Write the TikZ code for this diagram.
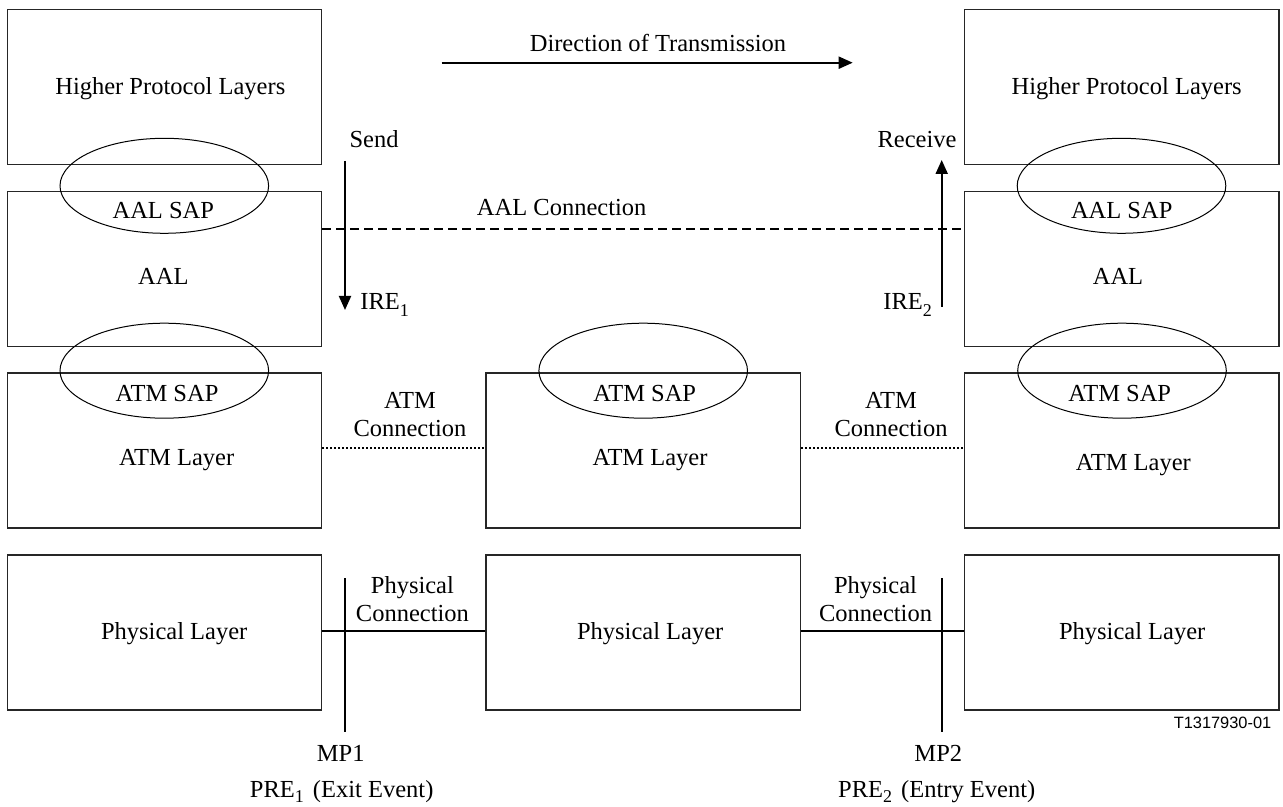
\documentclass[tikz,border=0pt]{standalone}
\usepackage{fontspec}
\setmainfont{Liberation Serif}
\newfontfamily\labelsans{Liberation Sans}
\usetikzlibrary{shapes.geometric,arrows.meta}
\newcommand\lowsub[2][3.5pt]{\raisebox{-#1}{\fontsize{9}{10}\selectfont #2}}
\begin{document}
\begin{tikzpicture}[x=0.5pt,y=-0.5pt,
  box/.style={draw=black!85,line width=0.65pt,minimum width=157.2pt,minimum height=77.5pt,inner sep=0pt},
  sap/.style={ellipse,draw,line width=0.5pt,minimum width=104.3pt,minimum height=47.5pt,inner sep=0pt},
  txt/.style={font=\fontsize{12.25}{14}\selectfont,inner sep=0pt,anchor=base},
  txtw/.style={txt,anchor=base west},
  conn/.style={line width=1pt},
  aalconn/.style={line width=1pt,dash pattern=on 4.5pt off 2.5pt},
  atmconn/.style={line width=0.9pt,dash pattern=on 1pt off 1pt},
  arr/.style={line width=1pt,-{Triangle[length=7pt,width=6pt]}},
]
\useasboundingbox (0,0) rectangle (1283,807);

% layer boxes
\node[box] (lHPL) at (164.5,86.8) {};
\node[box] (rHPL) at (1121.7,86.8) {};
\node[box] (lAAL) at (164.5,269.3) {};
\node[box] (rAAL) at (1121.7,269.3) {};
\node[box] (lATM) at (164.5,450.5) {};
\node[box] (mATM) at (643.25,450.5) {};
\node[box] (rATM) at (1121.7,450.5) {};
\node[box] (lPHY) at (164.5,632.5) {};
\node[box] (mPHY) at (643.25,632.5) {};
\node[box] (rPHY) at (1121.7,632.5) {};

% service access points
\node[sap] (lAALsap) at (164.3,185.8) {};
\node[sap] (rAALsap) at (1121.5,185.8) {};
\node[sap] (lATMsap) at (164.3,370.7) {};
\node[sap] (mATMsap) at (643.2,370.7) {};
\node[sap] (rATMsap) at (1122,370.7) {};

% box texts
\node[txt] (tlHPL) at (170.3,95) {Higher Protocol Layers};
\node[txt] (trHPL) at (1126.7,95) {Higher Protocol Layers};
\node[txt] (tlAALsap) at (163.3,218.3) {AAL SAP};
\node[txt] (trAALsap) at (1121.7,218.3) {AAL SAP};
\node[txt] (tlAAL) at (163.3,284.3) {AAL};
\node[txt] (trAAL) at (1118,284.3) {AAL};
\node[txt] (tlATMsap) at (167,401.7) {ATM SAP};
\node[txt] (tmATMsap) at (644.7,401.7) {ATM SAP};
\node[txt] (trATMsap) at (1119.7,401.7) {ATM SAP};
\node[txt] (tlATM) at (176.7,465.7) {ATM Layer};
\node[txt] (tmATM) at (650,465.7) {ATM Layer};
\node[txt] (trATM) at (1133.3,470.7) {ATM Layer};
\node[txt] (tlPHY) at (174.2,639.3) {Physical Layer};
\node[txt] (tmPHY) at (650.2,639.8) {Physical Layer};
\node[txt] (trPHY) at (1132.2,639.3) {Physical Layer};

% other labels
\node[txt] (dir) at (658,51.7) {Direction of Transmission};
\node[txt] (send) at (374,147.5) {Send};
\node[txt] (recv) at (917,147.5) {Receive};
\node[txtw] (ire1) at (360,310) {IRE\lowsub{1}};
\node[txtw] (ire2) at (883,310) {IRE\lowsub{2}};
\node[txt] (aalc) at (561.7,216) {AAL Connection};
\node[txt] (atmc1a) at (410,408.3) {ATM};
\node[txt] (atmc1b) at (410,436.7) {Connection};
\node[txt] (atmc2a) at (891,408.3) {ATM};
\node[txt] (atmc2b) at (891,436.7) {Connection};
\node[txt] (phyc1a) at (412.4,593.3) {Physical};
\node[txt] (phyc1b) at (412.4,621) {Connection};
\node[txt] (phyc2a) at (875.5,593.3) {Physical};
\node[txt] (phyc2b) at (875.5,621) {Connection};
\node[txt] (mp1) at (340.7,761.7) {MP1};
\node[txt] (pre1) at (341.7,797.5) {PRE\lowsub[2.5pt]{1}\hspace{0.12em} (Exit Event)};
\node[txt] (mp2) at (938.3,761.7) {MP2};
\node[txt] (pre2) at (936.7,797.5) {PRE\lowsub[2.5pt]{2}\hspace{0.12em} (Entry Event)};
\node[inner sep=0pt,anchor=base east,font=\labelsans\fontsize{8.2}{10}\selectfont] (fig) at (1271.7,728.3) {T1317930-01};

% free ends
\coordinate (dirA) at (441.7,62.7);
\coordinate (dirB) at (852.7,62.7);
\coordinate (sendA) at (345,161);
\coordinate (sendB) at (345,310);
\coordinate (recvA) at (941.7,307);
\coordinate (recvB) at (941.7,160);
\coordinate (mp1A) at (345,578.3);
\coordinate (mp1B) at (345,732.3);
\coordinate (mp2A) at (941.7,578.3);
\coordinate (mp2B) at (941.7,732.3);

% connectors
\draw[arr] (dirA) -- (dirB);
\draw[arr] (sendA) -- (sendB);
\draw[arr] (recvA) -- (recvB);
\draw[aalconn] ([yshift=19.9pt]lAAL.east) -- ([yshift=19.9pt]rAAL.west);
\draw[atmconn] ([yshift=1.1pt]lATM.east) -- ([yshift=1.1pt]mATM.west);
\draw[atmconn] ([yshift=1.1pt]mATM.east) -- ([yshift=1.1pt]rATM.west);
\draw[conn] ([yshift=0.9pt]lPHY.east) -- ([yshift=0.9pt]mPHY.west);
\draw[conn] ([yshift=0.9pt]mPHY.east) -- ([yshift=0.9pt]rPHY.west);
\draw[conn] (mp1A) -- (mp1B);
\draw[conn] (mp2A) -- (mp2B);
\end{tikzpicture}
\end{document}
